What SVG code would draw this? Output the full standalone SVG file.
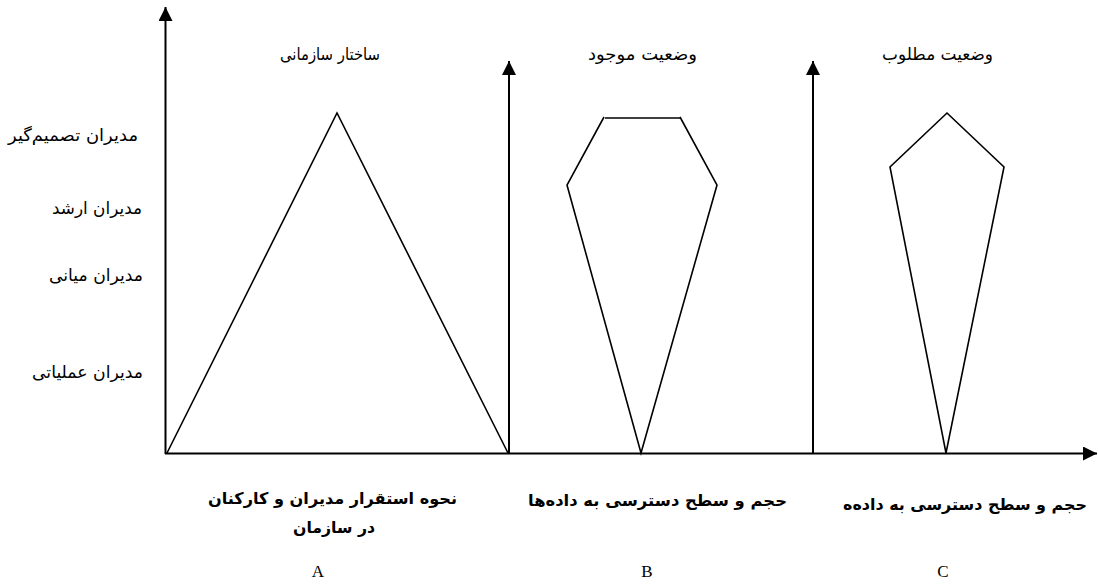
<svg xmlns="http://www.w3.org/2000/svg" width="1098" height="585" viewBox="0 0 1098 585">
<style>
.axis{stroke:#000;stroke-width:2;fill:none}
.shape{stroke:#000;stroke-width:1.6;fill:none;stroke-linejoin:miter}
.lbl{font-family:"DejaVu Sans",sans-serif;font-size:17px;fill:#000}
.bold{font-family:"DejaVu Sans",sans-serif;font-size:16px;font-weight:bold;fill:#000}
.let{font-family:"Liberation Serif",serif;font-size:17px;fill:#000}
</style>
<defs>
<marker id="ah" viewBox="0 0 10 10" refX="10" refY="5" markerWidth="14" markerHeight="14" markerUnits="userSpaceOnUse" orient="auto">
<path d="M0,0 L10,5 L0,10 Z" fill="#000"/>
</marker>
</defs>
<g id="connectors">
<line class="axis" x1="165.5" y1="454" x2="165.5" y2="7" marker-end="url(#ah)"/>
<line class="axis" x1="165" y1="453.5" x2="1097" y2="453.5" marker-end="url(#ah)"/>
<line class="axis" x1="509" y1="454" x2="509" y2="61" marker-end="url(#ah)"/>
<line class="axis" x1="813" y1="454" x2="813" y2="61" marker-end="url(#ah)"/>
</g>
<g id="shapeA"><polyline class="shape" points="167,453 337,113 508,453"/></g>
<g id="shapeB"><polyline class="shape" points="604,117 567,185 641,453 717,185 680,117"/><line class="shape" x1="605" y1="118" x2="680" y2="118"/></g>
<g id="shapeC"><polygon class="shape" points="947,113 1004,167 946,453 890,167"/></g>
<g id="titles">
<text class="lbl" x="280" y="60" textLength="100" lengthAdjust="spacingAndGlyphs">ساختار سازمانی</text>
<text class="lbl" x="588" y="60" textLength="109" lengthAdjust="spacingAndGlyphs">وضعیت موجود</text>
<text class="lbl" x="882" y="60" textLength="111" lengthAdjust="spacingAndGlyphs">وضعیت مطلوب</text>
</g>
<g id="levels">
<text class="lbl" x="8" y="141" textLength="130" lengthAdjust="spacingAndGlyphs">مدیران تصمیم‌گیر</text>
<text class="lbl" x="52" y="214" textLength="90" lengthAdjust="spacingAndGlyphs">مدیران ارشد</text>
<text class="lbl" x="49" y="281" textLength="94" lengthAdjust="spacingAndGlyphs">مدیران میانی</text>
<text class="lbl" x="32" y="378" textLength="111" lengthAdjust="spacingAndGlyphs">مدیران عملیاتی</text>
</g>
<g id="bottomA">
<text class="bold" x="208" y="504" textLength="249" lengthAdjust="spacingAndGlyphs">نحوه استقرار مدیران و کارکنان</text>
<text class="bold" x="293" y="533" textLength="82" lengthAdjust="spacingAndGlyphs">در سازمان</text>
<text class="let" x="318" y="577" text-anchor="middle">A</text>
</g>
<g id="bottomB">
<text class="bold" x="528" y="506" textLength="259" lengthAdjust="spacingAndGlyphs">حجم و سطح دسترسی به داده‌ها</text>
<text class="let" x="647" y="577" text-anchor="middle">B</text>
</g>
<g id="bottomC">
<text class="bold" x="843" y="510" textLength="244" lengthAdjust="spacingAndGlyphs">حجم و سطح دسترسی به داده‌ه</text>
<text class="let" x="943" y="577" text-anchor="middle">C</text>
</g>
</svg>
